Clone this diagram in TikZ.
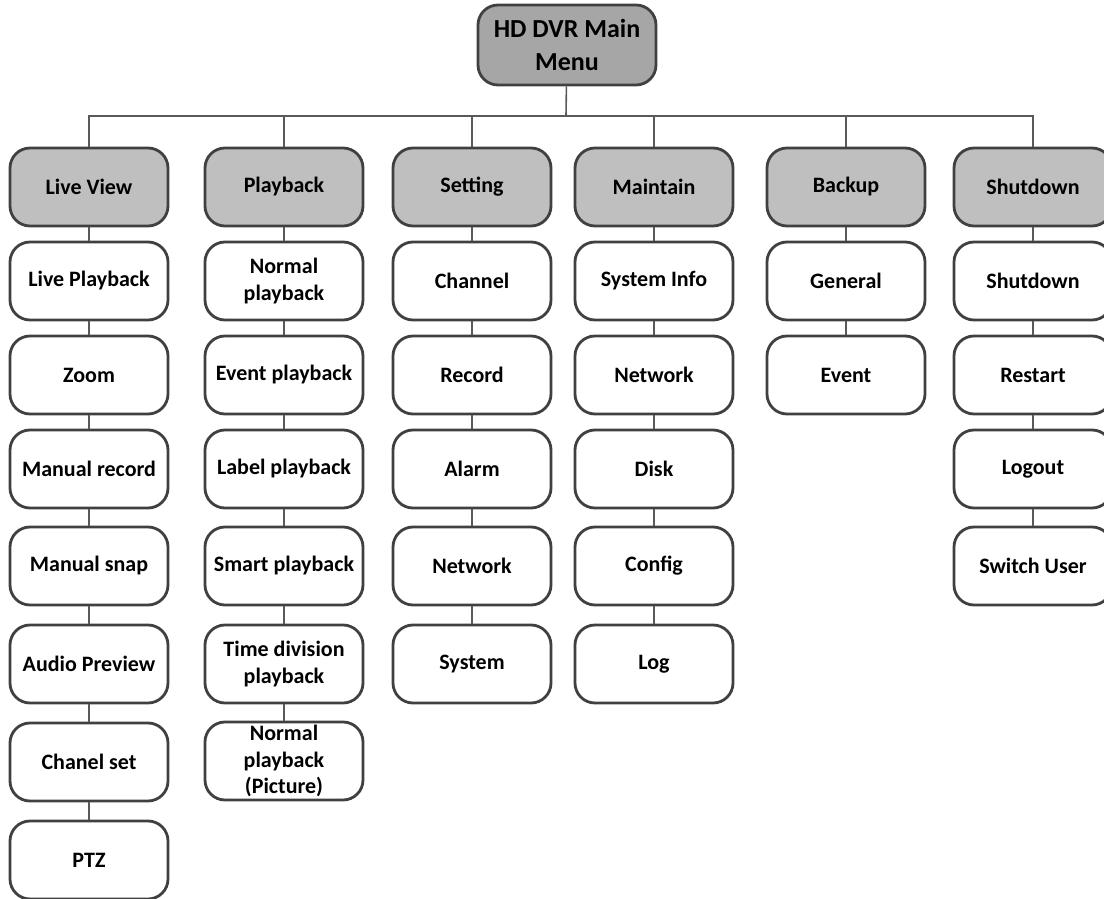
\documentclass[tikz,border=0pt]{standalone}
\usepackage{fontspec}
\setmainfont{Carlito}
\usetikzlibrary{positioning}
\begin{document}
\begin{tikzpicture}[x=0.5pt,y=-0.5pt,
menu/.style={draw=black!75,line width=1.4pt,rounded corners=10pt,fill=white,
  minimum width=79pt,minimum height=39pt,align=center,inner sep=1pt,
  font=\fontsize{11}{13.3}\selectfont\bfseries},
head/.style={menu,fill=black!25},
root/.style={menu,fill=black!35,minimum width=89pt,minimum height=40pt,
  font=\fontsize{13}{16.5}\selectfont\bfseries},
link/.style={draw=black!65,line width=0.8pt},
every edge/.style={link}]
\useasboundingbox (0,0) rectangle (1104,899);
\node[root] (main) at (567,45) {HD DVR Main\\Menu};
\coordinate (bar) at (566,116);
\node[head] (live) at (89,187) {Live View};
\node[head] (play) at (284,187) {Playback};
\node[head] (set) at (472,187) {Setting};
\node[head] (maint) at (654,187) {Maintain};
\node[head] (back) at (846,187) {Backup};
\node[head] (shut) at (1033,187) {Shutdown};
\draw[link] (main) -- (bar);
\draw[link] (live.north) |- (bar) (play.north) |- (bar) (set.north) |- (bar)
  (maint.north) |- (bar) (back.north) |- (bar) (shut.north) |- (bar);
% Live View
\node[menu] (live1) at (89,281) {Live Playback} edge (live);
\node[menu] (live2) at (89,375) {Zoom} edge (live1);
\node[menu] (live3) at (89,469) {Manual record} edge (live2);
\node[menu] (live4) at (89,566) {Manual snap} edge (live3);
\node[menu] (live5) at (89,664) {Audio Preview} edge (live4);
\node[menu] (live6) at (89,762) {Chanel set} edge (live5);
\node[menu] (live7) at (89,860) {PTZ} edge (live6);
% Playback
\node[menu] (play1) at (284,281) {Normal\\playback} edge (play);
\node[menu] (play2) at (284,375) {Event playback} edge (play1);
\node[menu] (play3) at (284,469) {Label playback} edge (play2);
\node[menu] (play4) at (284,566) {Smart playback} edge (play3);
\node[menu] (play5) at (284,664) {Time division\\playback} edge (play4);
\node[menu] (play6) at (284,761) {Normal\\playback\\(Picture)} edge (play5);
% Setting
\node[menu] (set1) at (472,281) {Channel} edge (set);
\node[menu] (set2) at (472,375) {Record} edge (set1);
\node[menu] (set3) at (472,469) {Alarm} edge (set2);
\node[menu] (set4) at (472,566) {Network} edge (set3);
\node[menu] (set5) at (472,664) {System} edge (set4);
% Maintain
\node[menu] (maint1) at (654,281) {System Info} edge (maint);
\node[menu] (maint2) at (654,375) {Network} edge (maint1);
\node[menu] (maint3) at (654,469) {Disk} edge (maint2);
\node[menu] (maint4) at (654,566) {Config} edge (maint3);
\node[menu] (maint5) at (654,664) {Log} edge (maint4);
% Backup
\node[menu] (back1) at (846,281) {General} edge (back);
\node[menu] (back2) at (846,375) {Event} edge (back1);
% Shutdown
\node[menu] (shut1) at (1033,281) {Shutdown} edge (shut);
\node[menu] (shut2) at (1033,375) {Restart} edge (shut1);
\node[menu] (shut3) at (1033,469) {Logout} edge (shut2);
\node[menu] (shut4) at (1033,566) {Switch User} edge (shut3);
\end{tikzpicture}
\end{document}
